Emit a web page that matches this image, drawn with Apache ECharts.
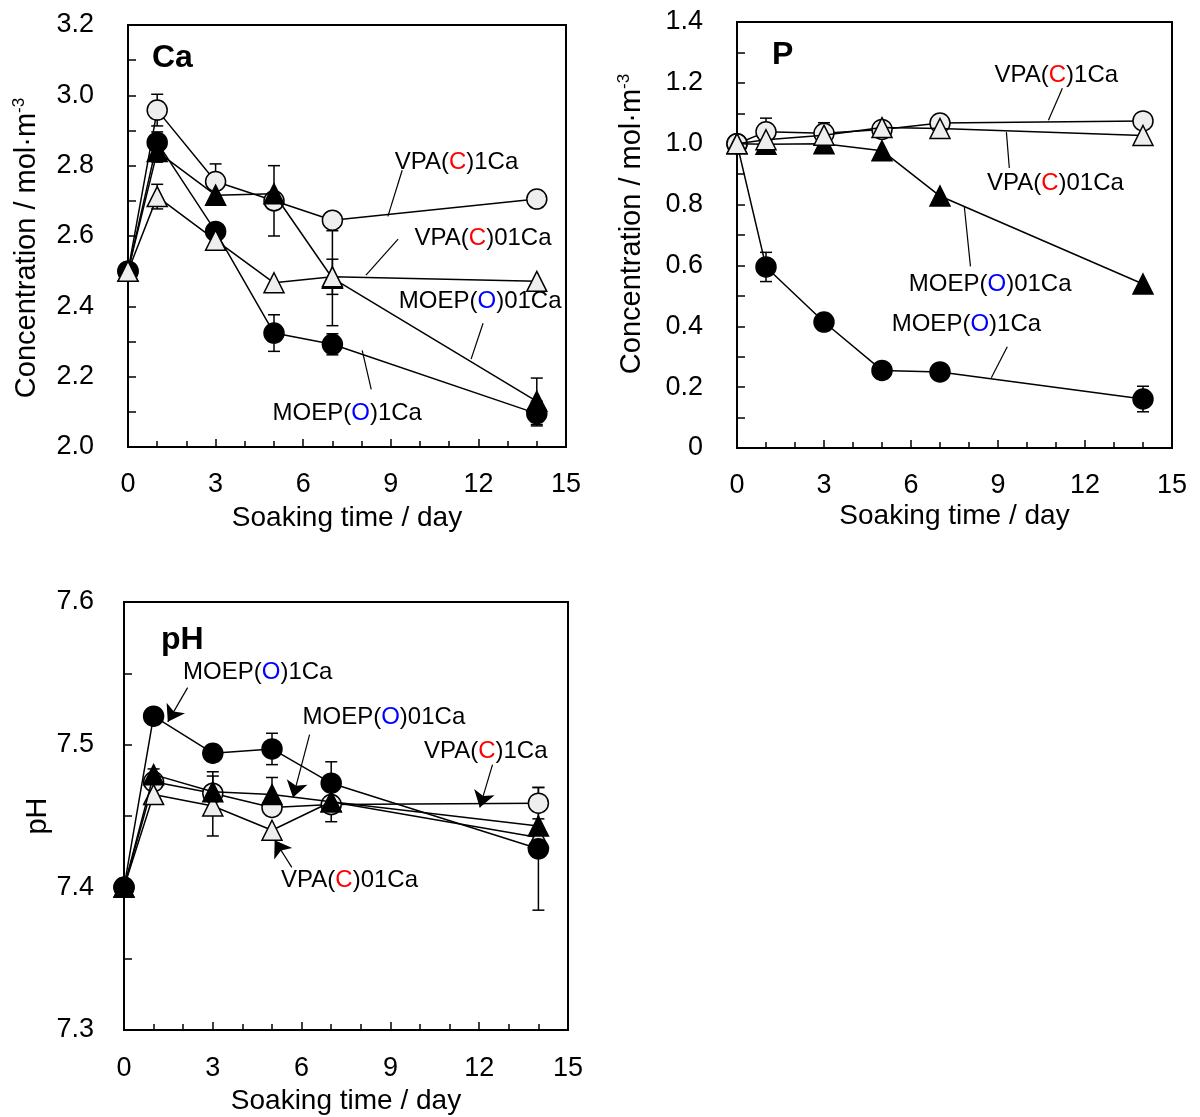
<!DOCTYPE html>
<html><head><meta charset="utf-8">
<script src="https://cdn.jsdelivr.net/npm/echarts@6/dist/echarts.min.js"></script>
<style>html,body{margin:0;padding:0;background:#fff}#c{width:1200px;height:1117px}</style>
</head><body><div id="c"></div>
<script>
// ---------- data ----------
const days = [0, 1, 3, 5, 7, 14];
const xTickLabels = ['0', '3', '6', '9', '12', '15'];

// Ca concentration (mol·m-3)
const caVPA1 = [2.50, 2.958, 2.755, 2.70, 2.645, 2.705];
const caVPA1Err = [0, 0.045, 0.05, 0.10, 0, 0];
const caVPA01 = [2.50, 2.712, 2.588, 2.467, 2.484, 2.471];
const caVPA01Err = [0, 0.035, 0, 0, 0.05, 0];
const caMOEP1 = [2.50, 2.866, 2.613, 2.324, 2.292, 2.095];
const caMOEP1Err = [0, 0.03, 0, 0.052, 0.03, 0.035];
const caMOEP01 = [2.50, 2.84, 2.716, 2.72, 2.48, 2.13];
const caMOEP01Err = [0, 0.03, 0, 0, 0.135, 0.066];

// P concentration (mol·m-3)
const pVPA1 = [1.0, 1.039, 1.034, 1.047, 1.068, 1.075];
const pVPA1Err = [0, 0.045, 0.035, 0, 0, 0];
const pVPA01 = [1.0, 1.013, 1.028, 1.053, 1.05, 1.027];
const pVPA01Err = [0, 0, 0, 0, 0, 0];
const pMOEP1 = [1.0, 0.595, 0.414, 0.255, 0.25, 0.161];
const pMOEP1Err = [0, 0.048, 0, 0, 0.02, 0.042];
const pMOEP01 = [1.0, 0.998, 1.0, 0.977, 0.828, 0.539];
const pMOEP01Err = [0, 0, 0, 0, 0, 0];

// pH
const phVPA1 = [7.40, 7.474, 7.466, 7.456, 7.458, 7.459];
const phVPA1Err = [0, 0, 0.015, 0, 0.012, 0.011];
const phVPA01 = [7.40, 7.465, 7.457, 7.44, 7.46, 7.435];
const phVPA01Err = [0, 0, 0.021, 0, 0, 0];
const phMOEP1 = [7.40, 7.52, 7.494, 7.497, 7.473, 7.427];
const phMOEP1Err = [0, 0, 0, 0.011, 0.015, 0.043];
const phMOEP01 = [7.40, 7.479, 7.467, 7.465, 7.46, 7.443];
const phMOEP01Err = [0, 0.004, 0, 0.012, 0, 0];

// annotations: [x(day), y(value), text] and leader lines [[x1,y1],[x2,y2]]
const caNotes = [[11.25, 2.81, 'VPA({r|C})1Ca'], [12.16, 2.594, 'VPA({r|C})01Ca'], [12.06, 2.415, 'MOEP({b|O})01Ca'], [7.51, 2.096, 'MOEP({b|O})1Ca']];
const caLeaders = [[[9.39, 2.787], [8.90, 2.656]], [[9.25, 2.591], [8.15, 2.489]], [[12.16, 2.352], [11.75, 2.250]], [[8.33, 2.164], [8.02, 2.275]]];
const pNotes = [[11.01, 1.225, 'VPA({r|C})1Ca'], [10.98, 0.870, 'VPA({r|C})01Ca'], [8.73, 0.539, 'MOEP({b|O})01Ca'], [7.91, 0.405, 'MOEP({b|O})1Ca']];
const pLeaders = [[[11.22, 1.182], [10.74, 1.077]], [[9.39, 0.920], [9.29, 1.038]], [[8.05, 0.597], [7.84, 0.792]], [[9.32, 0.333], [8.77, 0.231]]];
const phNotes = [[4.52, 7.551, 'MOEP({b|O})1Ca'], [8.78, 7.519, 'MOEP({b|O})01Ca'], [12.22, 7.495, 'VPA({r|C})1Ca'], [7.62, 7.405, 'VPA({r|C})01Ca']];
const phArrows = [[[2.15, 7.540], [1.48, 7.516]], [[6.27, 7.507], [5.71, 7.463]], [[12.45, 7.486], [12.02, 7.456]], [[5.67, 7.414], [5.09, 7.433]]];

// ---------- helpers ----------
const FONT = 'Liberation Sans, Arial, sans-serif';
const OPEN = '#eeeeee';

function pts(vals) { return days.map((d, i) => [d, vals[i]]); }
function errData(vals, err) {
  const out = [];
  days.forEach((d, i) => { if (err[i] > 0) out.push([d, vals[i] - err[i], vals[i] + err[i]]); });
  return out;
}
function errRender(params, api) {
  const x = api.value(0), lo = api.value(1), hi = api.value(2);
  const p1 = api.coord([x, lo]), p2 = api.coord([x, hi]);
  const w = 6;
  const style = { stroke: '#000', lineWidth: 1.5, fill: null };
  return {
    type: 'group', children: [
      { type: 'line', shape: { x1: p1[0], y1: p1[1], x2: p2[0], y2: p2[1] }, style },
      { type: 'line', shape: { x1: p1[0] - w, y1: p1[1], x2: p1[0] + w, y2: p1[1] }, style },
      { type: 'line', shape: { x1: p2[0] - w, y1: p2[1], x2: p2[0] + w, y2: p2[1] }, style }
    ]
  };
}
function errSeries(vals, err, ai) {
  return { type: 'custom', xAxisIndex: ai, yAxisIndex: ai, renderItem: errRender, data: errData(vals, err), encode: { x: 0, y: [1, 2] }, z: 2, silent: true };
}
function lineSeries(name, vals, symbol, fill, ai, z) {
  return {
    name, type: 'line', xAxisIndex: ai, yAxisIndex: ai, data: pts(vals),
    symbol, symbolSize: 20, showAllSymbol: true,
    lineStyle: { color: '#000', width: 1.5 },
    itemStyle: { color: fill, borderColor: '#000', borderWidth: 1.5, opacity: 1 },
    z: z, animation: false
  };
}
function noteSeries(notes, ai) {
  return {
    type: 'scatter', xAxisIndex: ai, yAxisIndex: ai, symbolSize: 1,
    itemStyle: { color: 'rgba(0,0,0,0)', opacity: 1 }, z: 10, silent: true,
    data: notes.map(n => [n[0], n[1], n[2]]),
    label: {
      show: true, position: 'inside', formatter: p => p.data[2], opacity: 1,
      color: '#000', fontSize: 24, fontFamily: FONT, textBorderWidth: 0,
      rich: { r: { color: '#ff0000', fontSize: 24, fontFamily: FONT }, b: { color: '#0000ff', fontSize: 24, fontFamily: FONT } }
    }
  };
}
function leaderSeries(lines, ai, arrow) {
  return {
    type: 'lines', coordinateSystem: 'cartesian2d', xAxisIndex: ai, yAxisIndex: ai, z: 9, silent: true,
    symbol: arrow ? ['none', 'arrow'] : ['none', 'none'], symbolSize: arrow ? [10, 16] : 0,
    lineStyle: { color: '#000', width: 1.2, opacity: 1 },
    data: lines.map(l => ({ coords: l }))
  };
}
function xAxis(ai, nameGap, margin) {
  return {
    type: 'value', gridIndex: ai, min: 0, max: 15, interval: 3,
    name: 'Soaking time / day', nameLocation: 'middle', nameGap,
    nameTextStyle: { fontSize: 28, color: '#000', fontFamily: FONT },
    axisLine: { show: true, lineStyle: { color: '#000', width: 2 } },
    axisTick: { show: true, inside: true, length: 8, lineStyle: { color: '#000', width: 1.5 } },
    minorTick: { show: true, splitNumber: 3, length: 6, lineStyle: { color: '#000', width: 1.5 } },
    axisLabel: { fontSize: 27, color: '#000', fontFamily: FONT, margin },
    splitLine: { show: false }, minorSplitLine: { show: false }
  };
}
function yAxis(ai, min, max, interval, fmt, name, gap, margin, rich, padding) {
  return {
    type: 'value', gridIndex: ai, min, max, interval,
    name, nameLocation: 'middle', nameGap: gap,
    nameTextStyle: { fontSize: 29, color: '#000', fontFamily: FONT, rich: rich || {}, padding: padding || 0 },
    axisLine: { show: true, lineStyle: { color: '#000', width: 2 } },
    axisTick: { show: true, inside: true, length: 8, lineStyle: { color: '#000', width: 1.5 } },
    minorTick: { show: true, splitNumber: 2, length: 8, lineStyle: { color: '#000', width: 1.5 } },
    axisLabel: { fontSize: 27, color: '#000', fontFamily: FONT, margin, formatter: fmt },
    splitLine: { show: false }, minorSplitLine: { show: false }
  };
}
const supRich = { s: { fontSize: 17, fontFamily: FONT, color: '#000', padding: [0, 0, 14, 0] } };
const concName = 'Concentration / mol·m{s|-3}';

const option = {
  animation: false,
  backgroundColor: '#fff',
  title: [
    { text: 'Ca', left: 147, top: 37, textStyle: { fontSize: 32, fontWeight: 'bold', color: '#000', fontFamily: FONT } },
    { text: 'P', left: 767, top: 34, textStyle: { fontSize: 32, fontWeight: 'bold', color: '#000', fontFamily: FONT } },
    { text: 'pH', left: 156, top: 619, textStyle: { fontSize: 32, fontWeight: 'bold', color: '#000', fontFamily: FONT } }
  ],
  grid: [
    { left: 128, top: 25, width: 438, height: 422, show: true, borderColor: '#000', borderWidth: 2, backgroundColor: 'transparent' },
    { left: 737, top: 22, width: 435, height: 426, show: true, borderColor: '#000', borderWidth: 2, backgroundColor: 'transparent' },
    { left: 124, top: 602, width: 444, height: 428, show: true, borderColor: '#000', borderWidth: 2, backgroundColor: 'transparent' }
  ],
  xAxis: [xAxis(0, 57, 24), xAxis(1, 54, 24), xAxis(2, 57, 25)],
  yAxis: [
    yAxis(0, 2.0, 3.2, 0.2, v => v.toFixed(1), concName, 86, 34, supRich, [0, 24, 0, 0]),
    yAxis(1, 0, 1.4, 0.2, v => (v === 0 ? '0' : v.toFixed(1)), concName, 90, 34, supRich, [0, 0, 0, 22]),
    yAxis(2, 7.3, 7.6, 0.1, v => v.toFixed(1), 'pH', 54, 30)
  ],
  series: [
    // Ca
    errSeries(caVPA1, caVPA1Err, 0), errSeries(caVPA01, caVPA01Err, 0), errSeries(caMOEP1, caMOEP1Err, 0), errSeries(caMOEP01, caMOEP01Err, 0),
    lineSeries('VPA(C)1Ca', caVPA1, 'circle', OPEN, 0, 3),
    lineSeries('MOEP(O)01Ca', caMOEP01, 'triangle', '#000', 0, 4),
    lineSeries('MOEP(O)1Ca', caMOEP1, 'circle', '#000', 0, 5),
    lineSeries('VPA(C)01Ca', caVPA01, 'triangle', OPEN, 0, 6),
    noteSeries(caNotes, 0), leaderSeries(caLeaders, 0, false),
    // P
    errSeries(pVPA1, pVPA1Err, 1), errSeries(pVPA01, pVPA01Err, 1), errSeries(pMOEP1, pMOEP1Err, 1), errSeries(pMOEP01, pMOEP01Err, 1),
    lineSeries('MOEP(O)1Ca', pMOEP1, 'circle', '#000', 1, 3),
    lineSeries('VPA(C)1Ca', pVPA1, 'circle', OPEN, 1, 4),
    lineSeries('MOEP(O)01Ca', pMOEP01, 'triangle', '#000', 1, 5),
    lineSeries('VPA(C)01Ca', pVPA01, 'triangle', OPEN, 1, 6),
    noteSeries(pNotes, 1), leaderSeries(pLeaders, 1, false),
    // pH
    errSeries(phVPA1, phVPA1Err, 2), errSeries(phVPA01, phVPA01Err, 2), errSeries(phMOEP1, phMOEP1Err, 2), errSeries(phMOEP01, phMOEP01Err, 2),
    lineSeries('VPA(C)1Ca', phVPA1, 'circle', OPEN, 2, 3),
    lineSeries('VPA(C)01Ca', phVPA01, 'triangle', OPEN, 2, 4),
    lineSeries('MOEP(O)01Ca', phMOEP01, 'triangle', '#000', 2, 5),
    lineSeries('MOEP(O)1Ca', phMOEP1, 'circle', '#000', 2, 6),
    noteSeries(phNotes, 2), leaderSeries(phArrows, 2, true)
  ]
};
const chart = echarts.init(document.getElementById('c'), null, { renderer: 'canvas' });
chart.setOption(option);
</script>
</body></html>
